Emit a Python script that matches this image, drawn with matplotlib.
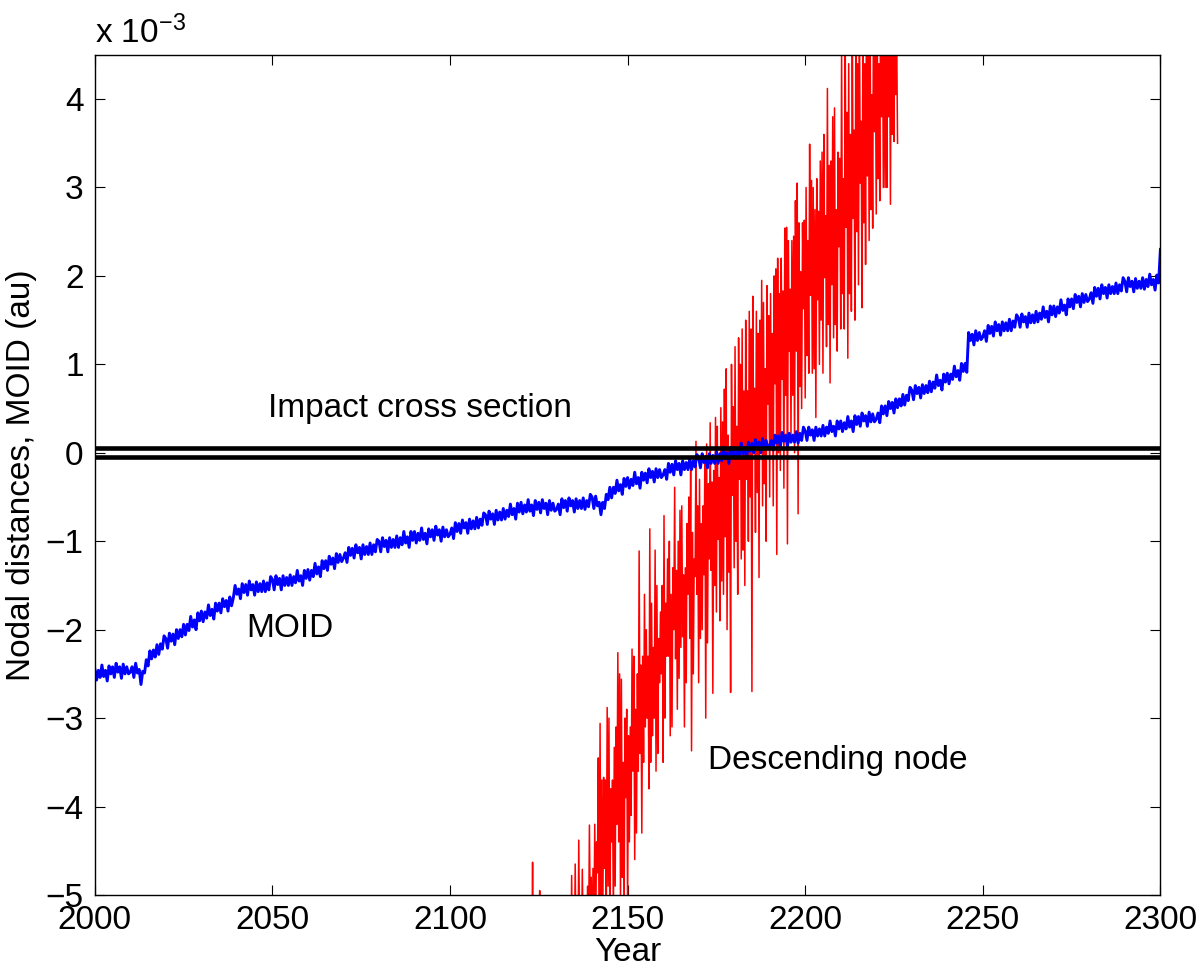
import numpy as np
import matplotlib
matplotlib.use("Agg")
import matplotlib.pyplot as plt

plt.rcParams['font.family'] = ['Liberation Sans', 'DejaVu Sans']
plt.rcParams['mathtext.fontset'] = 'custom'
plt.rcParams['mathtext.rm'] = 'Liberation Sans'
plt.rcParams['mathtext.it'] = 'Liberation Sans'

# values in units of 1e-3 au

# MOID, every half year from 2000.0 to 2300.0
moid_start = 2000.0
moid = [
    -2.44, -2.57, -2.46, -2.54, -2.40, -2.53, -2.46, -2.58, -2.41, -2.50,
    -2.42, -2.54, -2.38, -2.48, -2.42, -2.55, -2.39, -2.50, -2.42, -2.50,
    -2.48, -2.42, -2.54, -2.38, -2.49, -2.45, -2.62, -2.47, -2.49, -2.34,
    -2.41, -2.24, -2.33, -2.23, -2.31, -2.17, -2.28, -2.16, -2.22, -2.07,
    -2.10, -2.21, -2.04, -2.13, -2.05, -2.17, -2.00, -2.10, -2.00, -2.08,
    -1.94, -2.06, -1.94, -2.01, -1.85, -1.97, -1.89, -2.00, -1.81, -1.90,
    -1.79, -1.91, -1.80, -1.87, -1.72, -1.84, -1.77, -1.88, -1.70, -1.79,
    -1.70, -1.81, -1.65, -1.74, -1.67, -1.79, -1.63, -1.73, -1.64, -1.50,
    -1.60, -1.54, -1.65, -1.48, -1.58, -1.49, -1.61, -1.45, -1.55, -1.49,
    -1.61, -1.46, -1.57, -1.48, -1.57, -1.45, -1.57, -1.47, -1.55, -1.40,
    -1.43, -1.55, -1.39, -1.49, -1.42, -1.55, -1.39, -1.50, -1.41, -1.50,
    -1.38, -1.50, -1.40, -1.47, -1.33, -1.45, -1.39, -1.50, -1.33, -1.42,
    -1.32, -1.44, -1.33, -1.40, -1.25, -1.37, -1.29, -1.40, -1.22, -1.31,
    -1.22, -1.33, -1.17, -1.26, -1.19, -1.31, -1.14, -1.24, -1.15, -1.23,
    -1.19, -1.13, -1.24, -1.07, -1.16, -1.08, -1.19, -1.04, -1.13, -1.07,
    -1.20, -1.04, -1.15, -1.06, -1.15, -1.02, -1.15, -1.04, -1.12, -0.98,
    -1.00, -1.12, -0.96, -1.06, -0.99, -1.12, -0.96, -1.07, -0.98, -1.07,
    -0.94, -1.07, -0.96, -1.04, -0.89, -1.02, -0.95, -1.07, -0.89, -0.99,
    -0.89, -1.02, -0.91, -0.99, -0.85, -0.98, -0.91, -1.03, -0.86, -0.95,
    -0.87, -0.99, -0.83, -0.93, -0.87, -1.00, -0.84, -0.95, -0.87, -0.95,
    -0.92, -0.85, -0.97, -0.79, -0.89, -0.80, -0.91, -0.76, -0.85, -0.79,
    -0.91, -0.75, -0.86, -0.77, -0.86, -0.73, -0.85, -0.75, -0.82, -0.68,
    -0.70, -0.81, -0.66, -0.75, -0.69, -0.81, -0.65, -0.76, -0.67, -0.76,
    -0.63, -0.75, -0.65, -0.72, -0.58, -0.70, -0.63, -0.75, -0.57, -0.67,
    -0.56, -0.69, -0.59, -0.67, -0.53, -0.66, -0.59, -0.71, -0.54, -0.64,
    -0.56, -0.68, -0.53, -0.63, -0.57, -0.70, -0.54, -0.65, -0.57, -0.66,
    -0.64, -0.58, -0.70, -0.52, -0.62, -0.54, -0.66, -0.51, -0.60, -0.54,
    -0.67, -0.52, -0.63, -0.54, -0.63, -0.51, -0.64, -0.54, -0.61, -0.47,
    -0.50, -0.63, -0.49, -0.60, -0.56, -0.70, -0.56, -0.63, -0.47, -0.53,
    -0.39, -0.51, -0.39, -0.46, -0.31, -0.43, -0.36, -0.47, -0.29, -0.38,
    -0.28, -0.40, -0.30, -0.37, -0.22, -0.35, -0.28, -0.40, -0.22, -0.31,
    -0.23, -0.34, -0.18, -0.28, -0.21, -0.33, -0.18, -0.28, -0.19, -0.28,
    -0.25, -0.19, -0.30, -0.12, -0.22, -0.13, -0.25, -0.09, -0.19, -0.12,
    -0.25, -0.09, -0.19, -0.11, -0.19, -0.07, -0.19, -0.09, -0.16, -0.02,
    -0.05, -0.17, -0.01, -0.11, -0.04, -0.17, -0.01, -0.12, -0.03, -0.12,
    0.01, -0.12, -0.01, -0.09, 0.06, -0.07, 0.00, -0.12, 0.06, -0.04,
    0.06, -0.06, 0.04, -0.03, 0.11, -0.01, 0.06, -0.06, 0.12, 0.02,
    0.11, 0.00, 0.15, 0.06, 0.12, 0.00, 0.16, 0.05, 0.14, 0.05,
    0.08, 0.14, 0.03, 0.20, 0.11, 0.19, 0.07, 0.23, 0.13, 0.20,
    0.07, 0.22, 0.12, 0.20, 0.12, 0.24, 0.11, 0.22, 0.14, 0.29,
    0.25, 0.14, 0.29, 0.20, 0.26, 0.14, 0.29, 0.19, 0.27, 0.19,
    0.31, 0.19, 0.29, 0.22, 0.36, 0.24, 0.30, 0.19, 0.36, 0.27,
    0.36, 0.24, 0.34, 0.27, 0.41, 0.29, 0.36, 0.24, 0.42, 0.32,
    0.41, 0.30, 0.45, 0.36, 0.42, 0.30, 0.46, 0.35, 0.44, 0.35,
    0.38, 0.45, 0.34, 0.53, 0.44, 0.53, 0.42, 0.58, 0.50, 0.57,
    0.45, 0.61, 0.51, 0.61, 0.53, 0.66, 0.54, 0.65, 0.59, 0.74,
    0.71, 0.60, 0.76, 0.67, 0.74, 0.62, 0.77, 0.67, 0.76, 0.68,
    0.81, 0.69, 0.80, 0.73, 0.88, 0.76, 0.82, 0.71, 0.89, 0.80,
    0.90, 0.78, 0.89, 0.83, 0.98, 0.86, 0.93, 0.82, 1.01, 0.92,
    1.01, 0.91, 1.36, 1.27, 1.34, 1.22, 1.38, 1.27, 1.36, 1.28,
    1.31, 1.38, 1.26, 1.44, 1.35, 1.43, 1.32, 1.48, 1.38, 1.45,
    1.33, 1.48, 1.38, 1.47, 1.38, 1.51, 1.38, 1.49, 1.42, 1.56,
    1.53, 1.42, 1.57, 1.48, 1.54, 1.42, 1.58, 1.47, 1.56, 1.47,
    1.60, 1.48, 1.58, 1.51, 1.65, 1.53, 1.60, 1.48, 1.66, 1.56,
    1.66, 1.54, 1.65, 1.58, 1.73, 1.61, 1.67, 1.56, 1.74, 1.65,
    1.74, 1.63, 1.79, 1.70, 1.77, 1.65, 1.80, 1.70, 1.79, 1.71,
    1.74, 1.81, 1.69, 1.87, 1.77, 1.86, 1.74, 1.90, 1.80, 1.87,
    1.75, 1.90, 1.80, 1.88, 1.80, 1.92, 1.80, 1.90, 1.83, 1.98,
    1.94, 1.82, 1.98, 1.88, 1.94, 1.82, 1.97, 1.86, 1.94, 1.86,
    1.98, 1.85, 1.96, 1.88, 2.02, 1.90, 1.96, 1.84, 2.01, 1.92,
    2.30,
]

# descending node distance, every quarter year from 2123.0
# (one row per year)
node_start = 2123.0
node = [
    -6.0, -4.63, -6.3, -5.8,
    -6.2, -5.8, -6.4, -5.9,
    -6.1, -4.95, -6.3, -5.8,
    -6.3, -6.0, -6.2, -5.9,
    -6.4, -6.1, -6.3, -5.8,
    -6.2, -6.5, -6.1, -5.7,
    -6.3, -6.0, -6.2, -5.8,
    -6.4, -6.2, -6.0, -5.7,
    -6.0, -6.3, -6.1, -5.6,
    -6.1, -5.9, -6.0, -5.5,
    -6.2, -5.7, -5.9, -5.4,
    -5.9, -4.78, -5.8, -5.3,
    -5.8, -4.65, -5.7, -5.2,
    -6.0, -4.38, -5.6, -5.2,
    -5.7, -4.71, -5.5, -5.1,
    -5.9, -5.3, -5.4, -4.9,
    -5.6, -4.21, -5.3, -4.8,
    -5.8, -4.7, -5.5, -4.2,
    -5.5, -4.4, -4.75, -3.45,
    -5.6, -3.06, -5.5, -3.7,
    -5.4, -3.67, -4.7, -3.7,
    -5.2, -2.88, -4.9, -3.0,
    -5.3, -3.8, -4.4, -3.7,
    -5.3, -3.33, -4.9, -3.1,
    -4.2, -2.26, -4.4, -2.5,
    -5.1, -2.56, -4.8, -3.5,
    -5.4, -3.0, -3.9, -2.9,
    -5.2, -3.2, -4.4, -3.1,
    -4.1, -2.22, -3.6, -2.3,
    -4.6, -2.9, -4.3, -2.5,
    -3.6, -1.11, -3.4, -2.4,
    -4.3, -2.3, -3.5, -1.6,
    -3.1, -2.0, -3.0, -2.3,
    -3.8, -0.86, -3.5, -1.7,
    -3.2, -2.2, -3.0, -1.1,
    -3.6, -1.5, -3.4, -2.1,
    -2.6, -1.8, -2.5, -1.5,
    -3.5, -0.71, -3.0, -1.7,
    -2.3, -1.2, -2.3, -1.0,
    -3.2, -1.6, -3.1, -1.3,
    -2.0, -0.39, -2.33, -1.33,
    -2.9, -1.0, -2.55, -0.65,
    -2.2, -0.6, -2.08, -1.38,
    -3.1, -1.3, -2.6, -0.8,
    -1.6, -0.5, -2.1, -0.2,
    -3.37, -0.9, -2.5, -1.2,
    -1.4, 0.13, -1.6, -0.6,
    -2.6, -0.3, -2.1, -0.8,
    -2.0, -0.6, -1.38, -0.08,
    -3.0, 0.1, -2.15, -0.35,
    -1.2, 0.34, -1.33, -0.33,
    -2.72, -0.2, -1.5, 0.4,
    -1.8, 0.3, -0.98, -0.28,
    -1.9, 0.51, -1.45, 0.35,
    -1.6, 0.72, -0.95, 0.95,
    -2.0, 0.2, -1.35, -0.05,
    -2.71, 1.0, -0.48, 0.52,
    -1.3, 1.2, -1.0, 0.3,
    -1.6, 1.3, -0.3, 1.0,
    -1.2, 1.4, -1.1, 0.7,
    -1.5, 1.5, -0.3, 0.7,
    -1.0, 1.6, -0.5, 1.4,
    -2.7, 1.77, 0.03, 0.73,
    -0.9, 1.6, -0.45, 1.35,
    -1.41, 1.5, 0.05, 1.95,
    -0.6, 1.7, -0.35, 0.95,
    -1.0, 1.89, 0.55, 1.55,
    -0.5, 1.8, 0.05, 1.35,
    -0.6, 2.0, 0.78, 2.08,
    -1.15, 2.2, 0.0, 1.8,
    -0.2, 2.2, 0.83, 1.83,
    -0.4, 2.54, 0.65, 2.55,
    -1.03, 2.4, 1.15, 1.85,
    0.2, 2.4, 0.65, 2.45,
    0.0, 2.85, 1.15, 3.05,
    -0.69, 2.6, 0.75, 2.05,
    0.5, 2.6, 1.63, 2.63,
    0.62, 3.0, 1.1, 2.4,
    0.9, 3.49, 1.78, 3.08,
    0.9, 3.0, 0.95, 2.75,
    0.4, 3.1, 1.73, 2.73,
    1.0, 3.3, 1.5, 3.4,
    0.9, 3.6, 1.98, 2.68,
    1.2, 4.12, 1.45, 3.25,
    0.79, 3.3, 1.9, 3.8,
    1.3, 3.9, 1.45, 2.75,
    1.15, 3.4, 2.33, 3.33,
    1.4, 4.6, 1.8, 3.1,
    1.4, 4.8, 2.55, 3.85,
    1.07, 4.4, 1.8, 3.6,
    1.6, 5.0, 2.65, 3.65,
    1.5, 4.7, 2.5, 4.4,
    1.9, 5.2, 3.05, 3.75,
    1.64, 4.9, 2.6, 4.4,
    2.13, 5.3, 3.13, 5.03,
    2.4, 5.1, 2.75, 4.05,
    2.54, 5.5, 3.63, 4.63,
    2.7, 5.2, 3.1, 4.4,
    2.85, 5.6, 3.8, 5.1,
    3.0, 5.4, 3.0, 4.8,
    3.0, 5.7, 3.8, 4.8,
    2.81, 5.5, 3.6, 5.5,
    3.52, 5.8, 4.05, 4.75,
    3.5,
]

impact_half_width = 0.05

moid_years = moid_start + 0.5 * np.arange(len(moid))
node_years = node_start + 0.25 * np.arange(len(node))

fig = plt.figure(figsize=(12, 9.69), dpi=100)
ax = fig.add_axes([0.079, 0.0764, 0.888, 0.867])

ax.plot(node_years, node, color='#ff0000', lw=1.1)
ax.plot(moid_years, moid, color='#0000ff', lw=2.1)
ax.axhline(impact_half_width, color='black', lw=3.3)
ax.axhline(-impact_half_width, color='black', lw=3.3)

ax.set_xlim(2000, 2300)
ax.set_ylim(-5, 4.5)
ax.set_xticks(np.arange(2000, 2301, 50))
ax.set_yticks(np.arange(-5, 5, 1))

ax.tick_params(direction='in', length=7, width=0.8, top=True, right=True,
               labelsize=24, colors='black')
ax.tick_params(axis='x', pad=7)
ax.tick_params(axis='y', pad=8)
for sp in ax.spines.values():
    sp.set_linewidth(1.0)

ax.set_xlabel('Year', fontsize=24, labelpad=1)
ax.set_ylabel('Nodal distances, MOID (au)', fontsize=24, labelpad=6)

ax.text(2048.7, 0.5, 'Impact cross section', fontsize=24, va='center')
ax.text(2042.5, -1.99, 'MOID', fontsize=24, va='center')
ax.text(2172.7, -3.48, 'Descending node', fontsize=24, va='center')

ax.text(0.0, 1.006, r'x 10$^{-3}$', transform=ax.transAxes, fontsize=24,
        va='bottom', ha='left')

fig.savefig('out.png', dpi=100)
